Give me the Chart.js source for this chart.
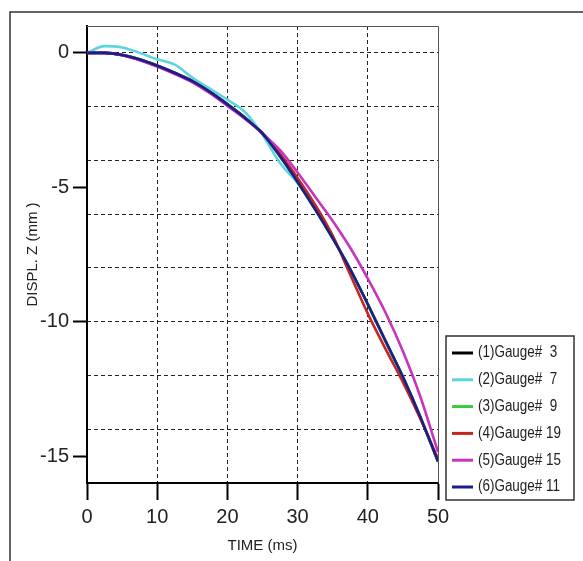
<!DOCTYPE html>
<html>
<head>
<meta charset="utf-8">
<script src="https://cdn.jsdelivr.net/npm/chart.js@4"></script>
<style>
  html, body { margin: 0; padding: 0; background: #fff; }
  #wrap { width: 583px; height: 561px; }
</style>
</head>
<body>
<div id="wrap"><canvas id="graph" width="583" height="561"></canvas></div>
<script>
var timeMs = [0, 2.5, 5, 7.5, 10, 12.5, 15, 17.5, 20, 22.5, 25, 27.5, 30, 32.5, 35, 37.5, 40, 42.5, 45, 47.5, 50];

var gauge3  = [0, 0, -0.07, -0.24, -0.47, -0.74, -1.04, -1.44, -1.9, -2.4, -2.98, -3.83, -4.78, -5.8, -6.88, -8.05, -9.35, -10.72, -12.07, -13.57, -15.2];
var gauge7  = [0, 0.25, 0.2, 0.0, -0.24, -0.44, -0.92, -1.33, -1.74, -2.2, -3.05, -4.1, -4.85, -5.84, -6.9, -8.05, -9.35, -10.7, -12.05, -13.55, -15.2];
var gauge9  = [0, 0, -0.08, -0.25, -0.48, -0.75, -1.05, -1.45, -1.92, -2.42, -3.0, -3.85, -4.8, -5.82, -6.9, -8.05, -9.35, -10.7, -12.05, -13.55, -15.2];
var gauge19 = [0, 0, -0.09, -0.26, -0.49, -0.76, -1.06, -1.46, -1.93, -2.43, -3.0, -3.75, -4.65, -5.65, -6.8, -8.25, -9.7, -11.0, -12.25, -13.62, -15.1];
var gauge15 = [0, 0, -0.09, -0.27, -0.51, -0.79, -1.1, -1.5, -1.97, -2.45, -3.0, -3.62, -4.45, -5.35, -6.25, -7.25, -8.4, -9.65, -11.1, -12.8, -14.85];
var gauge11 = [0, 0, -0.08, -0.25, -0.48, -0.75, -1.05, -1.45, -1.92, -2.42, -3.0, -3.85, -4.8, -5.82, -6.9, -8.05, -9.35, -10.7, -12.05, -13.55, -15.2];

var seriesLabels = ["(1)Gauge#  3", "(2)Gauge#  7", "(3)Gauge#  9", "(4)Gauge# 19", "(5)Gauge# 15", "(6)Gauge# 11"];
var seriesColors = ["#000000", "#5ad6dc", "#3cc83c", "#c4261e", "#c834bc", "#1c1c8c"];
var seriesValues = [gauge3, gauge7, gauge9, gauge19, gauge15, gauge11];

var xTicks = [0, 10, 20, 30, 40, 50];
var yTicks = [-15, -10, -5, 0];
var yGridLines = [-14, -12, -10, -8, -6, -4, -2, 0];

var FONT = "'Liberation Sans', Arial, sans-serif";
Chart.defaults.font.family = FONT;

// outer frame, plot frame and boxed legend
var framePlugin = {
  id: "frames",
  beforeDraw: function (chart) {
    var ctx = chart.ctx;
    ctx.save();
    ctx.fillStyle = "#fff";
    ctx.fillRect(0, 0, chart.width, chart.height);
    ctx.strokeStyle = "#333";
    ctx.lineWidth = 1.5;
    ctx.beginPath();
    ctx.moveTo(10, chart.height);
    ctx.lineTo(10, 12);
    ctx.lineTo(chart.width, 12);
    ctx.stroke();
    ctx.restore();
  },
  afterDraw: function (chart) {
    var ctx = chart.ctx;
    var a = chart.chartArea;
    ctx.save();
    ctx.strokeStyle = "#555";
    ctx.lineWidth = 1;
    ctx.beginPath();
    ctx.moveTo(a.left, a.top + 0.5);
    ctx.lineTo(a.right + 0.5, a.top + 0.5);
    ctx.lineTo(a.right + 0.5, a.bottom);
    ctx.stroke();

    var lg = { left: 446, top: 336, right: 574, bottom: 500 };
    ctx.strokeStyle = "#333";
    ctx.lineWidth = 1.5;
    ctx.strokeRect(lg.left, lg.top, lg.right - lg.left, lg.bottom - lg.top);
    ctx.font = "16px " + FONT;
    ctx.textBaseline = "middle";
    chart.data.datasets.forEach(function (ds, i) {
      var y = lg.top + 17 + i * 26.8;
      ctx.strokeStyle = ds.borderColor;
      ctx.lineWidth = 3;
      ctx.beginPath();
      ctx.moveTo(lg.left + 6, y);
      ctx.lineTo(lg.left + 27, y);
      ctx.stroke();
      // narrow the label like the original condensed face
      ctx.save();
      ctx.translate(lg.left + 32, y);
      ctx.scale(0.84, 1);
      ctx.fillStyle = "#222";
      ctx.fillText(ds.label, 0, 0);
      ctx.restore();
    });
    ctx.restore();
  }
};

var datasets = seriesValues.map(function (vals, i) {
  return {
    label: seriesLabels[i],
    data: timeMs.map(function (t, j) { return { x: t, y: vals[j] }; }),
    borderColor: seriesColors[i],
    backgroundColor: seriesColors[i],
    borderWidth: 2.6,
    pointRadius: 0,
    cubicInterpolationMode: "monotone",
    fill: false,
    order: seriesValues.length - i
  };
});

var ctx = document.getElementById("graph").getContext("2d");
var chart = new Chart(ctx, {
  type: "line",
  data: { datasets: datasets },
  plugins: [framePlugin],
  options: {
    responsive: false,
    animation: false,
    layout: { padding: { left: 0, top: 26, right: 145, bottom: 0 } },
    plugins: {
      legend: { display: false },
      tooltip: { enabled: false }
    },
    scales: {
      x: {
        type: "linear",
        position: "bottom",
        min: 0,
        max: 50,
        afterBuildTicks: function (s) { s.ticks = xTicks.map(function (v) { return { value: v }; }); },
        afterFit: function (s) { s.height = 78; },
        ticks: { color: "#222", padding: 5, font: { size: 20 } },
        grid: {
          color: function (c) {
            return (c.tick && (c.tick.value === 0 || c.tick.value === 50)) ? "rgba(0,0,0,0)" : "#222";
          },
          lineWidth: 1,
          tickColor: "#000",
          tickWidth: 2,
          tickLength: 17,
          tickBorderDash: []
        },
        border: { display: true, color: "#000", width: 2, dash: [4, 3] },
        title: { display: true, text: "TIME (ms)", color: "#222", font: { size: 15 }, padding: { top: 0, bottom: 6 } }
      },
      y: {
        type: "linear",
        position: "left",
        min: -16,
        max: 1,
        afterBuildTicks: function (s) { s.ticks = yTicks.map(function (v) { return { value: v }; }); },
        afterFit: function (s) { s.width = 87; },
        ticks: { color: "#222", padding: 4, font: { size: 20 } },
        grid: {
          drawOnChartArea: false,
          tickColor: "#000",
          tickWidth: 2,
          tickLength: 14
        },
        border: { display: true, color: "#000", width: 2 },
        title: { display: true, text: "DISPL. Z (mm )", color: "#222", font: { size: 15 }, padding: { top: 24, bottom: 0 } }
      },
      yGrid: {
        type: "linear",
        position: "left",
        min: -16,
        max: 1,
        afterBuildTicks: function (s) { s.ticks = yGridLines.map(function (v) { return { value: v }; }); },
        afterFit: function (s) { s.width = 0; },
        ticks: { display: false },
        grid: { drawTicks: false, tickLength: 0, color: "#222", lineWidth: 1 },
        border: { display: false, dash: [4, 3] }
      }
    }
  }
});
</script>
</body>
</html>
